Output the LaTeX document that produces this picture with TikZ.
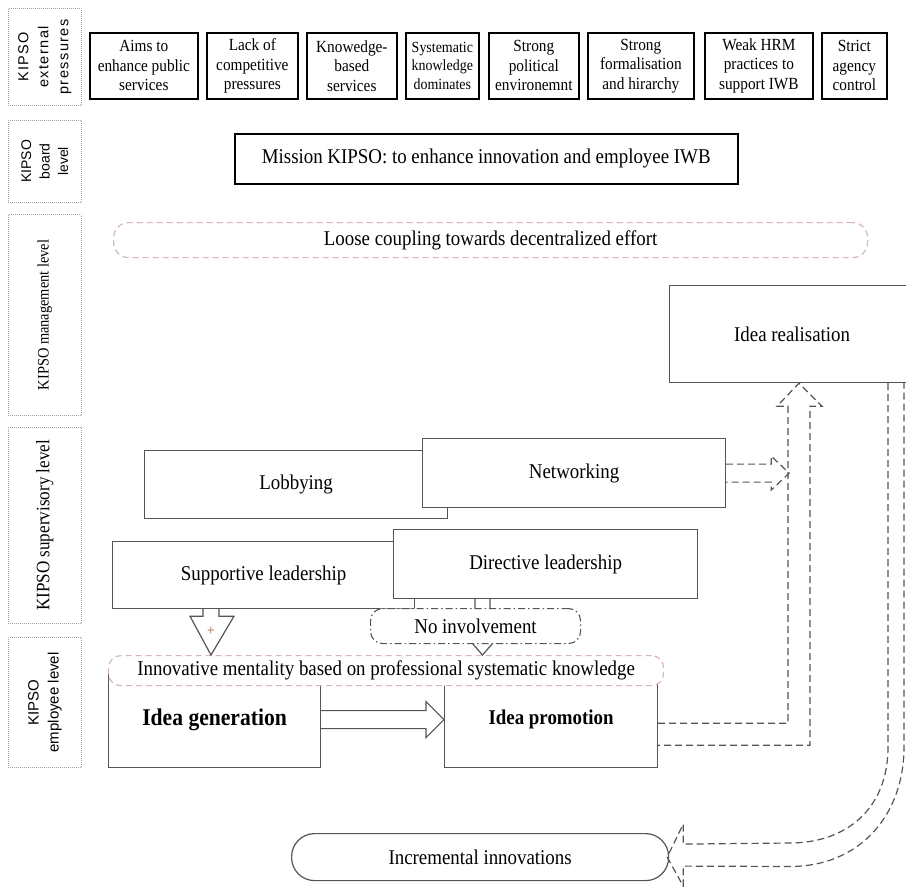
\documentclass[tikz,border=0pt]{standalone}
\usepackage{fontspec}
\setmainfont{Liberation Serif}[FakeStretch=0.9]
\newfontfamily\lblsans{Liberation Sans}
\usetikzlibrary{calc}
\definecolor{ln}{RGB}{85,85,85}
\definecolor{pinkd}{RGB}{212,182,188}
\definecolor{dotc}{RGB}{160,160,160}
\definecolor{plusc}{RGB}{165,95,55}
\tikzset{
  tbox/.style={draw=black, line width=1.7pt, anchor=north west, align=center, inner sep=0pt, minimum height=66, font=\fontsize{17}{19.5}\selectfont},
  gbox/.style={draw=ln, line width=1.2pt, fill=white, anchor=north west, align=center, inner sep=0pt, font=\fontsize{21}{25}\selectfont},
  lblbox/.style={draw=dotc, line width=0.8pt, dash pattern=on 0.8pt off 1.2pt, anchor=north west, inner sep=0pt, minimum width=73},
  lbltext/.style={rotate=90, align=center, inner sep=0pt},
  pinkdash/.style={draw=pinkd, line width=1.2pt, dash pattern=on 6pt off 4pt, rounded corners=13pt, fill=white, anchor=north west, inner sep=0pt, font=\fontsize{21}{25}\selectfont},
  dsh/.style={draw=ln, line width=1.2pt, dash pattern=on 7pt off 4pt},
  sol/.style={draw=ln, line width=1.2pt},
}
\begin{document}
\begin{tikzpicture}[x=1pt,y=-1pt]
\useasboundingbox (0,0) rectangle (906,887);

% left level labels
\node[lblbox, minimum height=97] (L1) at (8,8) {};
\node[lbltext, font=\lblsans\fontsize{14.5}{20}\selectfont\addfontfeature{LetterSpace=10}] (T1) at (L1.center) {KIPSO\\external\\pressures};
\node[lblbox, minimum height=82] (L2) at (8,120) {};
\node[lbltext, font=\lblsans\fontsize{14}{18.5}\selectfont] (T2) at (L2.center) {KIPSO\\board\\level};
\node[lblbox, minimum height=201] (L3) at (8,214) {};
\node[lbltext, font=\fontsize{16}{18}\selectfont] (T3) at (L3.center) {KIPSO management level};
\node[lblbox, minimum height=196] (L4) at (8,427) {};
\node[lbltext, font=\fontsize{19}{22}\selectfont] (T4) at (L4.center) {KIPSO supervisory level};
\node[lblbox, minimum height=130] (L5) at (8,637) {};
\node[lbltext, font=\lblsans\fontsize{15}{20}\selectfont] (T5) at (L5.center) {KIPSO\\employee level};

% external pressures
\node[tbox, minimum width=108] (e1) at (89,32) {Aims to\\enhance public\\services};
\node[tbox, minimum width=91] (e2) at (206,32) {Lack of\\competitive\\pressures};
\node[tbox, minimum width=90] (e3) at (306,32) {Knowedge-\\based\\services};
\node[tbox, minimum width=73, font=\fontsize{15.5}{18.5}\selectfont] (e4) at (405,32) {Systematic\\knowledge\\dominates};
\node[tbox, minimum width=90] (e5) at (488,32) {Strong\\political\\environemnt};
\node[tbox, minimum width=106] (e6) at (587,32) {Strong\\formalisation\\and hirarchy};
\node[tbox, minimum width=108] (e7) at (704,32) {Weak HRM\\practices to\\support IWB};
\node[tbox, minimum width=65] (e8) at (821,32) {Strict\\agency\\control};

% board
\node[tbox, line width=1.5pt, minimum width=503, minimum height=50, font=\fontsize{21}{25}\selectfont] (mission) at (234,133) {Mission KIPSO: to enhance innovation and employee IWB};

% management
\node[pinkdash, minimum width=754, minimum height=35, rounded corners=15pt] (loose) at (113,222) {Loose coupling towards decentralized effort};
\node[gbox, minimum width=245, minimum height=97] (real) at (669,285) {Idea realisation};

% supervisory
\node[gbox, minimum width=303, minimum height=68] (lob) at (144,450) {Lobbying};
\node[gbox, minimum width=303, minimum height=69] (net) at (422,438) {Networking};
\node[gbox, minimum width=302, minimum height=67] (sup) at (112,541) {\raisebox{-3pt}{Supportive leadership}};
\node[gbox, minimum width=304, minimum height=69] (dir) at (393,529) {Directive leadership};

% employee
\node[gbox, minimum width=212, minimum height=96, font=\bfseries\fontsize{24}{28}\selectfont] (gen) at (108,671) {Idea generation};
\node[gbox, minimum width=213, minimum height=96, font=\bfseries\fontsize{21}{25}\selectfont] (prom) at (444,671) {Idea promotion};
\node[pinkdash, minimum width=555, minimum height=30, rounded corners=12pt] (ment) at (108,655) {Innovative mentality based on professional systematic knowledge};

% supportive -> mentality (hollow arrow with +)
\draw[sol, fill=white] ($(sup.south west)+(91,0)$) -- ++(0,7) -- ++(-13,0) -- ($(ment.north west)+(103,0)$) -- ($(sup.south west)+(122,7)$) -- ($(sup.south west)+(107,7)$) -- ($(sup.south west)+(107,0)$);
\node[text=plusc, inner sep=0pt, font=\fontsize{15}{15}\selectfont] (plus) at ($(sup.south west)+(99,22)$) {+};

% directive -> mentality (through no involvement)
\draw[sol, fill=white] ($(dir.south west)+(82,0)$) -- ++(0,38) -- ++(-8,0) -- ($(ment.north west)+(374.5,0)$) -- ($(dir.south west)+(105,38)$) -- ($(dir.south west)+(97,38)$) -- ($(dir.south west)+(97,0)$);
\node[draw=ln, line width=1.1pt, dash pattern=on 7pt off 3pt on 1.5pt off 3pt, rounded corners=12pt, fill=white, anchor=north west, inner sep=0pt, minimum width=210, minimum height=35, font=\fontsize{21}{25}\selectfont] (noinv) at (370,608) {No involvement};

% generation -> promotion
\draw[sol] ($(gen.east)+(0,-9)$) -- ($(prom.west)+(-18,-9)$) -- ($(prom.west)+(-18,-18)$) -- (prom.west) -- ($(prom.west)+(-18,18)$) -- ($(prom.west)+(-18,9)$) -- ($(gen.east)+(0,9)$);

% promotion -> realisation (dashed hollow)
\draw[dsh] ($(prom.south east)+(0,-45)$) -| ($(real.south west)+(119,23)$) -- ($(real.south west)+(108,23)$) -- ($(real.south west)+(130,0)$) -- ($(real.south west)+(153,23)$) -- ($(real.south west)+(141,23)$) |- ($(prom.south east)+(0,-23)$);

% networking -> realisation arrow
\draw[dsh] ($(net.east)+(0,-9)$) -- ($(net.east)+(45,-9)$) -- ($(net.east)+(45,-17)$) -- ($(net.east)+(63,0)$) -- ($(net.east)+(45,17)$) -- ($(net.east)+(45,9)$) -- ($(net.east)+(0,9)$);

% incremental innovations
\node[draw=ln, line width=1.2pt, rounded corners=23pt, anchor=north west, inner sep=0pt, minimum width=377, minimum height=47, font=\fontsize{21}{25}\selectfont] (inc) at (291,833) {Incremental innovations};

% realisation -> incremental (curved dashed hollow)
\draw[dsh] ($(real.south west)+(219,0)$) -- (888,747) .. controls (888,810) and (845,843) .. (790,843) -- ($(inc.east)+(14,-13)$) -- ($(inc.east)+(14,-33)$) -- ($(inc.east)+(-2,0)$) -- ($(inc.east)+(14,29)$) -- ($(inc.east)+(14,9)$) -- (790,866.5) .. controls (860,866.5) and (904,815) .. (904,747) -- ($(real.south west)+(235,0)$);
\end{tikzpicture}
\end{document}
